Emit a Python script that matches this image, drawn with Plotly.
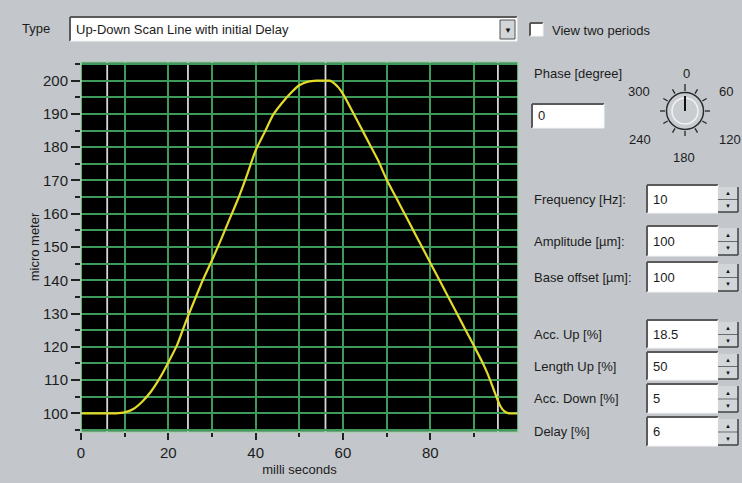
import math
import plotly.graph_objects as go

# ---------------- data ----------------
ms = [0, 2, 4, 6, 8, 10, 12, 14, 16, 18, 20, 22, 24, 26, 28, 30, 32, 34, 36, 38,
      40, 42, 44, 46, 48, 50, 52, 54, 56, 57, 58, 59, 60, 62, 64, 66, 68, 70, 72,
      74, 76, 78, 80, 82, 84, 86, 88, 90, 92, 93, 94, 95, 96, 97, 98, 100]
um = [100, 100, 100, 100, 100, 100.3, 101.3, 103.5, 106.5, 110.5, 115.3, 120.5,
      127.5, 134, 140.3, 146, 152, 158.3, 164.5, 171.5, 179, 184.3, 189.7, 193.2,
      196.2, 198.6, 199.7, 200, 200, 200, 199.2, 197.9, 196, 191.2, 186.2, 181.2,
      176.2, 170.3, 165.3, 160.3, 155.3, 150.3, 145.3, 140.3, 135.3, 130.3, 125.3,
      120.3, 115.2, 112.3, 109, 105.5, 102.3, 100.6, 100, 100]
phase_marks_ms = [6, 24.5, 56, 95.5]

x_major = [0, 20, 40, 60, 80]
x_minor = [10, 30, 50, 70, 90]
y_major = [100, 110, 120, 130, 140, 150, 160, 170, 180, 190, 200]
y_minor = [95, 105, 115, 125, 135, 145, 155, 165, 175, 185, 195, 205]

type_text = "Up-Down Scan Line with initial Delay"
check_text = "View two periods"
phase_label = "Phase [degree]"
phase_value = "0"
phase_deg = 0
dial_labels = ["0", "60", "120", "180", "240", "300"]
param_labels = ["Frequency [Hz]:", "Amplitude [µm]:", "Base offset [µm]:",
                "Acc. Up [%]", "Length Up [%]", "Acc. Down [%]", "Delay [%]"]
param_values = ["10", "100", "100", "18.5", "50", "5", "6"]

# ---------------- layout geometry (pixels) ----------------
W, H = 742, 483
L, R, T, B = 81, 224, 62, 51
PW, PH = W - L - R, H - T - B
BG = "#c3c7cb"
GRID = "#3d9a58"
FONT = "Liberation Sans, Arial, sans-serif"
TXT = "#1c1c1c"


def px(x):
    return (x - L) / PW


def py(y):
    return (H - B - y) / PH


shapes = []
ann = []


def line(x0, y0, x1, y1, color, width=1):
    shapes.append(dict(type="line", xref="paper", yref="paper",
                       x0=px(x0), y0=py(y0), x1=px(x1), y1=py(y1),
                       line=dict(color=color, width=width)))


def rect(x0, y0, x1, y1, fill, lc=None, lw=0):
    shapes.append(dict(type="rect", xref="paper", yref="paper",
                       x0=px(x0), y0=py(y0), x1=px(x1), y1=py(y1),
                       fillcolor=fill, line=dict(color=lc or fill, width=lw)))


def circle(cx, cy, r, fill, lc, lw):
    shapes.append(dict(type="circle", xref="paper", yref="paper",
                       x0=px(cx - r), y0=py(cy + r), x1=px(cx + r), y1=py(cy - r),
                       fillcolor=fill, line=dict(color=lc, width=lw)))


def text(x, y, s, size=13, xa="left", color=TXT):
    ann.append(dict(xref="paper", yref="paper", x=px(x), y=py(y), text=s,
                    showarrow=False, xanchor=xa, yanchor="middle",
                    font=dict(family=FONT, size=size, color=color)))


def sunken(x0, y0, x1, y1):
    rect(x0, y0, x1, y1, "white")
    line(x0, y0, x1, y0, "#5a5a5a", 2)
    line(x0, y0, x0, y1, "#5a5a5a", 2)
    line(x0, y1, x1, y1, "#f4f4f4", 1)
    line(x1, y0, x1, y1, "#f4f4f4", 1)


def spinner(x0, y0, x1, y1):
    ym = (y0 + y1) / 2
    rect(x0, y0, x1, y1, "#d3d6d9")
    line(x0, ym, x1, ym, "#6a6a6a", 1)
    line(x0, y1, x1, y1, "#404040", 1.5)
    line(x1, y0, x1, y1, "#404040", 1.5)
    text((x0 + x1) / 2, (y0 + ym) / 2, "▲", 6, "center", "#111")
    text((x0 + x1) / 2, (ym + y1) / 2, "▼", 6, "center", "#111")


# Type dropdown
text(20, 28, "Type", 13)
sunken(70, 17, 517, 41)
text(74, 29, type_text, 13)
rect(500, 20, 515, 39, "#d3d6d9", "#505050", 1)
text(507.5, 30, "▼", 8, "center", "#111")

# checkbox
sunken(530, 23, 543, 36)
text(550, 30, check_text, 13)

# phase
text(532, 73, phase_label, 13)
sunken(532, 104, 604, 128)
text(536, 116, phase_value, 13)

# dial
cx, cy = 685, 111
for k in range(12):
    a = math.radians(k * 30)
    r0, r1 = 20, (27 if k == 0 else 25)
    line(cx + r0 * math.sin(a), cy - r0 * math.cos(a),
         cx + r1 * math.sin(a), cy - r1 * math.cos(a), "#262626", 1.3)
circle(cx, cy, 18.5, "#c9cdd1", "#2a2a2a", 1.5)
circle(cx, cy, 13, "rgba(0,0,0,0)", "#f2f2f2", 1.5)
a = math.radians(phase_deg)
line(cx, cy, cx + 15 * math.sin(a), cy - 15 * math.cos(a), "#111", 2)
dial_pos = [(686, 73), (726, 92), (730, 139), (684, 157), (640, 139), (639, 92)]
for (lx, ly), s in zip(dial_pos, dial_labels):
    text(lx, ly, s, 13, "center")

# parameter spin boxes
rows = [(185, 213), (226, 256), (262, 292), (320, 348), (352, 380), (384, 413), (417, 446)]
for (y0, y1), lab, val in zip(rows, param_labels, param_values):
    yc = (y0 + y1) / 2
    text(532, yc, lab, 13)
    sunken(647, y0, 718, y1)
    text(651, yc, val, 13)
    spinner(718, y0 + 2, 738, y1 - 1)

# marker lines at segment boundaries (data coords)
for m in phase_marks_ms:
    shapes.append(dict(type="line", xref="x", yref="paper", x0=m, x1=m, y0=0, y1=1,
                       layer="between", line=dict(color="#d6d6d6", width=1.8)))

# plot border
shapes.append(dict(type="rect", xref="paper", yref="paper", x0=0, y0=0, x1=1, y1=1,
                   layer="above", line=dict(color="#9fd2aa", width=1.5)))

fig = go.Figure()
fig.add_trace(go.Scatter(x=ms, y=um, mode="lines",
                         line=dict(color="#e4da2a", width=2.2, shape="spline", smoothing=0.5),
                         hoverinfo="skip"))

fig.update_layout(
    width=W, height=H,
    margin=dict(l=L, r=R, t=T, b=B, pad=0, autoexpand=False),
    paper_bgcolor=BG, plot_bgcolor="#000000",
    showlegend=False,
    shapes=shapes, annotations=ann,
    font=dict(family=FONT, color=TXT),
)
fig.update_xaxes(
    range=[0, 100.1], tickmode="array", tickvals=x_major, automargin=False,
    ticktext=[str(v) for v in x_major],
    ticks="outside", ticklen=7, tickwidth=1.5, tickcolor="#222",
    showgrid=True, gridcolor=GRID, gridwidth=1.5, zeroline=False,
    showline=False, tickfont=dict(size=15, color=TXT, family=FONT),
    title=dict(text="milli seconds", font=dict(size=13, color=TXT, family=FONT), standoff=4),
    minor=dict(tickmode="array", tickvals=x_minor, ticks="outside", ticklen=4,
               tickwidth=1.5, tickcolor="#222", showgrid=True, gridcolor=GRID, gridwidth=1.5),
)
fig.update_yaxes(
    range=[94.4, 205.6], tickmode="array", tickvals=y_major, automargin=False,
    ticktext=[str(v) for v in y_major],
    ticks="outside", ticklen=9, tickwidth=1.5, tickcolor="#222",
    showgrid=True, gridcolor=GRID, gridwidth=1.5, zeroline=False,
    showline=False, tickfont=dict(size=15, color=TXT, family=FONT),
    title=dict(text="micro meter", font=dict(size=13, color=TXT, family=FONT), standoff=0),
    minor=dict(tickmode="array", tickvals=y_minor, ticks="outside", ticklen=5,
               tickwidth=1.5, tickcolor="#222", showgrid=True, gridcolor=GRID, gridwidth=1.5),
)

fig.write_html("out.html", config={"displayModeBar": False},
               post_script="document.body.style.margin='0';document.body.style.background='" + BG + "';")
